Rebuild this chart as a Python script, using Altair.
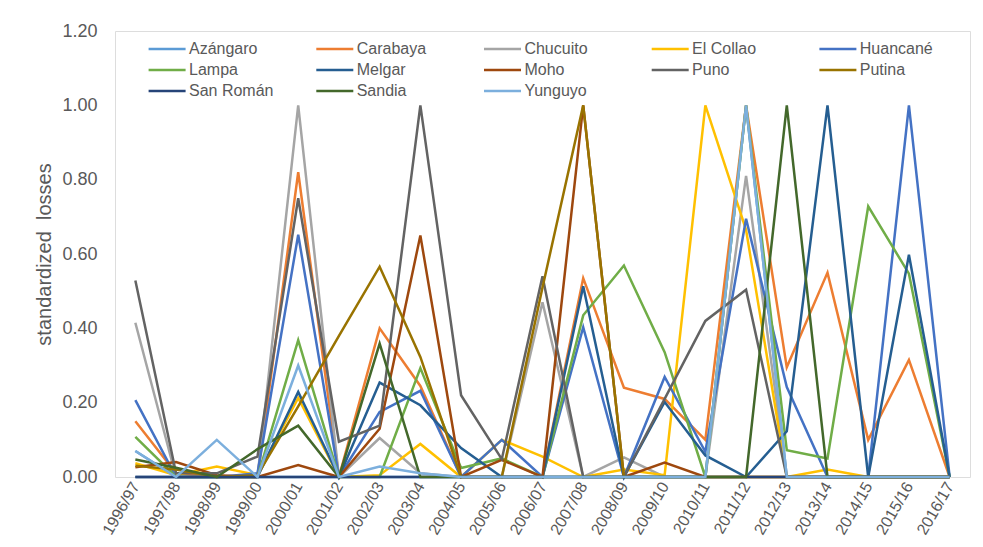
import altair as alt
import pandas as pd

years = ["1996/97", "1997/98", "1998/99", "1999/00", "2000/01", "2001/02", "2002/03",
         "2003/04", "2004/05", "2005/06", "2006/07", "2007/08", "2008/09", "2009/10",
         "2010/11", "2011/12", "2012/13", "2013/14", "2014/15", "2015/16", "2016/17"]

names = ["Azángaro", "Carabaya", "Chucuito", "El Collao", "Huancané",
         "Lampa", "Melgar", "Moho", "Puno", "Putina",
         "San Román", "Sandia", "Yunguyo"]

colors = ["#5B9BD5", "#ED7D31", "#A5A5A5", "#FFC000", "#4472C4",
          "#70AD47", "#255E91", "#9E480E", "#636363", "#997300",
          "#264478", "#43682B", "#7CAFDD"]

azangaro = [0.07, 0, 0, 0, 0, 0, 0, 0, 0, 0, 0, 0, 0, 0, 0, 1.0, 0, 0, 0, 0, 0]
carabaya = [0.15, 0.01, 0, 0, 0.82, 0, 0.40, 0.245, 0, 0, 0, 0.535, 0.24, 0.21, 0.10, 1.0, 0.295, 0.55, 0.10, 0.315, 0]
chucuito = [0.415, 0, 0, 0, 1.0, 0, 0.105, 0.01, 0, 0, 0.47, 0, 0.053, 0, 0, 0.81, 0, 0, 0, 0, 0]
el_collao = [0.037, 0.005, 0.028, 0.005, 0.213, 0, 0.005, 0.089, 0, 0.10, 0.055, 0, 0.02, 0.005, 1.0, 0.665, 0, 0.02, 0, 0, 0]
huancane = [0.207, 0, 0, 0.01, 0.652, 0, 0.175, 0.232, 0, 0.10, 0, 0.403, 0, 0.269, 0.068, 0.695, 0.242, 0, 0, 1.0, 0]
lampa = [0.108, 0, 0, 0, 0.368, 0, 0, 0.293, 0.024, 0.05, 0, 0.435, 0.569, 0.336, 0, 1.0, 0.072, 0.05, 0.728, 0.547, 0]
melgar = [0, 0, 0, 0, 0.229, 0, 0.254, 0.193, 0.078, 0, 0, 0.513, 0, 0.202, 0.058, 0, 0.123, 1.0, 0, 0.598, 0]
moho = [0.026, 0.04, 0.005, 0, 0.032, 0, 0.13, 0.65, 0, 0.046, 0, 1.0, 0, 0.039, 0, 0, 0, 0, 0, 0, 0]
puno = [0.529, 0.01, 0.01, 0.055, 0.75, 0.095, 0.138, 1.0, 0.22, 0.048, 0.54, 0, 0, 0.21, 0.42, 0.504, 0, 0, 0, 0, 0]
putina = [0.03, 0.02, 0, 0.005, 0.19, 0.38, 0.566, 0.323, 0, 0, 0.51, 1.0, 0, 0, 0, 0, 0, 0, 0, 0, 0]
san_roman = [0] * 21
sandia = [0.047, 0.025, 0, 0.075, 0.138, 0, 0.359, 0, 0, 0, 0, 0, 0, 0, 0, 0, 1.0, 0, 0, 0, 0]
yunguyo = [0.07, 0, 0.10, 0, 0.30, 0, 0.028, 0.01, 0, 0, 0, 0, 0, 0, 0, 1.0, 0, 0, 0, 0, 0]

series = [azangaro, carabaya, chucuito, el_collao, huancane, lampa, melgar,
          moho, puno, putina, san_roman, sandia, yunguyo]

rows = []
for k, (n, vals) in enumerate(zip(names, series)):
    for y, v in zip(years, vals):
        rows.append({"district": n, "year": y, "value": v, "k": k})
df = pd.DataFrame(rows)

txt = "#595959"
font = "Liberation Sans"

chart = alt.Chart(df).mark_line(strokeWidth=2.5, strokeJoin="miter").encode(
    x=alt.X("year:N", sort=years,
            scale=alt.Scale(type="point", padding=0.5),
            axis=alt.Axis(title=None, labelAngle=-60, labelAlign="right",
                          labelBaseline="middle", labelPadding=6,
                          labelFontSize=16, labelColor=txt, labelFont=font,
                          domain=False, ticks=False)),
    y=alt.Y("value:Q", scale=alt.Scale(domain=[0, 1.2], nice=False),
            axis=alt.Axis(title="standardized\u00a0 losses", values=[0, 0.2, 0.4, 0.6, 0.8, 1.0, 1.2],
                          format=".2f", grid=False, domain=False, ticks=False,
                          labelFontSize=18, labelColor=txt, labelFont=font, labelPadding=18,
                          titleFontSize=20, titleColor=txt, titleFont=font,
                          titleFontWeight="normal", titlePadding=7)),
    color=alt.Color("district:N",
                    scale=alt.Scale(domain=names, range=colors),
                    legend=alt.Legend(title=None, orient="none", legendX=32, legendY=9,
                                      direction="horizontal",
                                      columns=5, gridAlign="all", columnPadding=36.7,
                                      rowPadding=4,
                                      symbolType="M-1,0H4",
                                      symbolSize=219, symbolStrokeWidth=2.5,
                                      labelFontSize=16, labelColor=txt, labelFont=font,
                                      labelOffset=24, padding=0)),
    detail="k:N",
).properties(
    width=855, height=446,
    autosize=alt.AutoSizeParams(type="none"),
    padding={"left": 107, "top": 23, "right": 5, "bottom": 62},
).configure_view(
    stroke="#8c8c8c", strokeWidth=1
).configure(background="white")

chart.save("out.html", embed_options={"renderer": "svg", "actions": False})
